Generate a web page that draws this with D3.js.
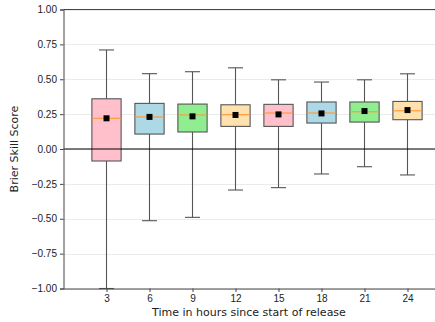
<!DOCTYPE html>
<html>
<head>
  <meta charset="utf-8">
  <title>Brier Skill Score</title>
  <style>
    body { margin: 0; background: #fff; }
    svg { display: block; font-family: "DejaVu Sans", sans-serif; }
    .grid line { stroke: #ebebeb; stroke-width: 1; }
    .axis text { font-size: 10px; fill: #222; }
    .axis path, .axis line { stroke: #444; }
  </style>
</head>
<body>
  <svg id="chart" width="435" height="322"></svg>
  <script src="https://d3js.org/d3.v7.min.js"></script>
  <script>
    // hours since start of release
    var hours = [3, 6, 9, 12, 15, 18, 21, 24];
    var whiskerLow = [-1.00, -0.514, -0.49, -0.294, -0.277, -0.179, -0.127, -0.186];
    var q1 = [-0.086, 0.107, 0.122, 0.162, 0.162, 0.186, 0.193, 0.21];
    var medians = [0.22, 0.23, 0.244, 0.246, 0.258, 0.258, 0.267, 0.274];
    var q3 = [0.36, 0.327, 0.322, 0.317, 0.32, 0.337, 0.337, 0.341];
    var whiskerHigh = [0.71, 0.54, 0.554, 0.582, 0.496, 0.48, 0.496, 0.539];
    var means = [0.22, 0.23, 0.234, 0.244, 0.248, 0.255, 0.272, 0.279];
    var boxColors = ['pink', 'lightblue', 'lightgreen', '#ffe1b0'];
    var yTicks = [-1, -0.75, -0.5, -0.25, 0, 0.25, 0.5, 0.75, 1];

    var svg = d3.select('#chart');
    var margin = { left: 63.5, top: 9.5, bottom: 288.5 };

    var x = d3.scaleLinear().domain([0, 9]).range([margin.left, margin.left + 43 * 9]);
    var y = d3.scaleLinear().domain([-1, 1]).range([margin.bottom, margin.top]);

    // grid
    svg.append('g').attr('class', 'grid')
      .selectAll('line').data(yTicks).enter().append('line')
      .attr('x1', margin.left).attr('x2', 435)
      .attr('y1', function(d) { return Math.round(y(d)) + 0.5; })
      .attr('y2', function(d) { return Math.round(y(d)) + 0.5; });

    var data = hours.map(function(h, i) {
      return {
        h: h, pos: i + 1, lo: whiskerLow[i], q1: q1[i], med: medians[i],
        q3: q3[i], hi: whiskerHigh[i], mean: means[i], color: boxColors[i % boxColors.length]
      };
    });

    var boxW = 0.68 * (x(1) - x(0));
    var capW = 0.35 * (x(1) - x(0));

    var g = svg.append('g').selectAll('g').data(data).enter().append('g');

    // whiskers
    g.append('line')
      .attr('x1', function(d) { return x(d.pos); }).attr('x2', function(d) { return x(d.pos); })
      .attr('y1', function(d) { return y(d.hi); }).attr('y2', function(d) { return y(d.q3); })
      .attr('stroke', '#555').attr('stroke-width', 1.1);
    g.append('line')
      .attr('x1', function(d) { return x(d.pos); }).attr('x2', function(d) { return x(d.pos); })
      .attr('y1', function(d) { return y(d.q1); }).attr('y2', function(d) { return y(d.lo); })
      .attr('stroke', '#555').attr('stroke-width', 1.1);
    // caps
    [['hi'], ['lo']].forEach(function(k) {
      g.append('line')
        .attr('x1', function(d) { return x(d.pos) - capW / 2; })
        .attr('x2', function(d) { return x(d.pos) + capW / 2; })
        .attr('y1', function(d) { return y(d[k[0]]); })
        .attr('y2', function(d) { return y(d[k[0]]); })
        .attr('stroke', '#555').attr('stroke-width', 1.1);
    });

    // boxes
    g.append('rect')
      .attr('x', function(d) { return x(d.pos) - boxW / 2; })
      .attr('width', boxW)
      .attr('y', function(d) { return y(d.q3); })
      .attr('height', function(d) { return y(d.q1) - y(d.q3); })
      .attr('fill', function(d) { return d.color; })
      .attr('stroke', '#555').attr('stroke-width', 1.1);

    // zero line
    svg.append('line')
      .attr('x1', margin.left).attr('x2', 435)
      .attr('y1', y(0)).attr('y2', y(0))
      .attr('stroke', '#000').attr('stroke-width', 1.2);

    // medians
    g.append('line')
      .attr('x1', function(d) { return x(d.pos) - boxW / 2 + 0.5; })
      .attr('x2', function(d) { return x(d.pos) + boxW / 2 - 0.5; })
      .attr('y1', function(d) { return y(d.med); })
      .attr('y2', function(d) { return y(d.med); })
      .attr('stroke', '#ff9a3c').attr('stroke-width', 1.2);

    // means
    g.append('rect')
      .attr('x', function(d) { return x(d.pos) - 3; })
      .attr('y', function(d) { return y(d.mean) - 3; })
      .attr('width', 6).attr('height', 6)
      .attr('fill', '#000');

    // axes
    var yAxis = svg.append('g').attr('class', 'axis')
      .attr('transform', 'translate(' + margin.left + ',0)')
      .call(d3.axisLeft(y).tickValues(yTicks).tickFormat(d3.format('.2f')).tickSize(3.5).tickPadding(3));
    yAxis.selectAll('text').text(function(d) { return d3.format('.2f')(d).replace('-', '\u2212'); });

    var xAxis = svg.append('g').attr('class', 'axis')
      .attr('transform', 'translate(0,' + margin.bottom + ')')
      .call(d3.axisBottom(x).tickValues(data.map(function(d) { return d.pos; }))
        .tickFormat(function(p) { return hours[p - 1]; }).tickSize(3.5).tickPadding(3));
    xAxis.select('.domain').attr('d', 'M' + margin.left + ',0.5H435');

    // top spine
    svg.append('line')
      .attr('x1', margin.left).attr('x2', 435)
      .attr('y1', margin.top).attr('y2', margin.top)
      .attr('stroke', '#444');

    svg.append('text')
      .attr('x', 249).attr('y', 316)
      .attr('text-anchor', 'middle')
      .attr('font-size', 11).attr('fill', '#222')
      .text('Time in hours since start of release');

    svg.append('text')
      .attr('transform', 'translate(18,' + y(0) + ') rotate(-90)')
      .attr('text-anchor', 'middle')
      .attr('font-size', 11).attr('fill', '#222')
      .text('Brier Skill Score');
  </script>
</body>
</html>
